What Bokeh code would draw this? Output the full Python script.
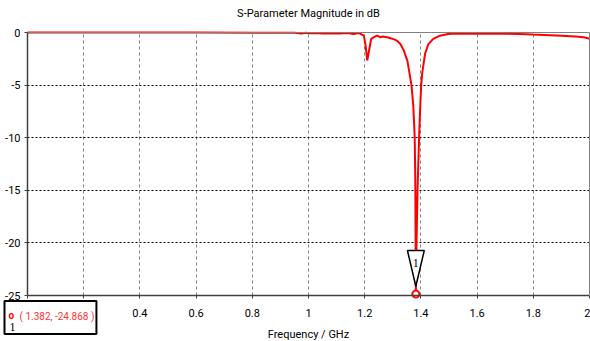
from bokeh.plotting import figure
from bokeh.models import Label, FixedTicker, ColumnDataSource, LinearAxis, Range1d
from bokeh.embed import file_html
from bokeh.resources import INLINE

# ---- data ----
freq_ghz = [0.0, 0.3, 0.6, 0.9, 0.95, 0.975, 0.99, 1.0, 1.02, 1.05, 1.08, 1.11,
            1.14, 1.16, 1.18, 1.19, 1.197, 1.203, 1.209, 1.215, 1.223, 1.233,
            1.244, 1.255, 1.265, 1.28, 1.292, 1.305, 1.316, 1.327, 1.339, 1.352,
            1.3665, 1.373, 1.378, 1.380, 1.381, 1.382, 1.3845, 1.388, 1.3935,
            1.397, 1.401, 1.405, 1.415, 1.4265, 1.444, 1.468, 1.497, 1.53, 1.56,
            1.6, 1.65, 1.7, 1.75, 1.8, 1.86, 1.9, 1.95, 1.98, 2.0]
s11_db = [0.0, 0.0, 0.0, -0.02, -0.03, -0.1, -0.02, -0.08, -0.05, -0.1, -0.06, -0.1,
          -0.05, -0.15, -0.05, -0.2, -0.3, -1.2, -2.66, -1.8, -0.6, -0.45,
          -0.3, -0.45, -0.38, -0.45, -0.55, -0.65, -0.8, -1.1, -1.7, -2.7,
          -5.0, -7.0, -10.0, -14.0, -19.0, -24.868, -20.0, -15.0, -10.0,
          -7.5, -5.0, -3.8, -2.0, -1.1, -0.6, -0.3, -0.15, -0.1, -0.12,
          -0.1, -0.12, -0.1, -0.15, -0.2, -0.25, -0.3, -0.38, -0.45, -0.6]

x_ticks = [0, 0.2, 0.4, 0.6, 0.8, 1.0, 1.2, 1.4, 1.6, 1.8, 2.0]
x_tick_labels = ["0", "0.2", "0.4", "0.6", "0.8", "1", "1.2", "1.4", "1.6", "1.8", "2"]
y_ticks = [0, -5, -10, -15, -20, -25]
y_tick_labels = ["0", "-5", "-10", "-15", "-20", "-25"]

marker_freq = [1.382]
marker_db = [-24.868]
marker_id = "1"

title_text = "S-Parameter Magnitude in dB"
x_label = "Frequency / GHz"

FONT = "Roboto"
SERIF = "Liberation Serif"

# ---- layout: the frame covers the whole canvas; axes sit at fixed locations ----
W, H = 590, 341
left_px, right_px, top_px, bottom_px = 27, 589, 32, 295
x0, x1 = x_ticks[0], x_ticks[-1]
y0, y1 = y_ticks[-1], y_ticks[0]
kx = (right_px - left_px) / (x1 - x0)
ky = (bottom_px - top_px) / (y1 - y0)
xr = Range1d(x0 - left_px / kx, x1 + (W - right_px) / kx)
yr = Range1d(y0 - (H - bottom_px) / ky, y1 + top_px / ky)

p = figure(width=W, height=H, x_range=xr, y_range=yr,
           output_backend="svg", toolbar_location=None, min_border=0)
p.title.visible = False
p.background_fill_color = "white"
p.border_fill_color = "white"
p.outline_line_color = None

# axes
p.xaxis.ticker = FixedTicker(ticks=x_ticks)
p.xaxis.major_label_overrides = {t: l for t, l in zip(x_ticks, x_tick_labels)}
p.yaxis.ticker = FixedTicker(ticks=y_ticks)
p.yaxis.major_label_overrides = {t: l for t, l in zip(y_ticks, y_tick_labels)}
p.xaxis.fixed_location = y0
p.yaxis.fixed_location = x0
p.xaxis.bounds = (x0, x1)
p.yaxis.bounds = (y0, y1)
for ax in (p.xaxis, p.yaxis):
    ax.major_tick_in = 0
    ax.major_tick_out = 3
    ax.minor_tick_line_color = None
    ax.axis_line_color = "#404040"
    ax.axis_line_width = 1.5
    ax.major_tick_line_color = "#404040"
    ax.major_label_text_font = FONT
    ax.major_label_text_font_size = "11px"
    ax.major_label_text_color = "black"
p.xaxis.major_label_standoff = 10
p.yaxis.major_label_standoff = 4
p.xaxis.axis_label = x_label
p.xaxis.axis_label_text_font = FONT
p.xaxis.axis_label_text_font_size = "11px"
p.xaxis.axis_label_text_font_style = "normal"
p.xaxis.axis_label_text_color = "black"
p.xaxis.axis_label_standoff = 8

# frame edges (top and right) as plain axes without ticks
top_axis = LinearAxis(fixed_location=y1, bounds=(x0, x1), axis_line_color="#808080",
                      major_tick_line_color=None, minor_tick_line_color=None,
                      major_label_text_color=None)
right_axis = LinearAxis(fixed_location=x1, bounds=(y0, y1), axis_line_color="#808080",
                        major_tick_line_color=None, minor_tick_line_color=None,
                        major_label_text_color=None)
p.add_layout(top_axis, "above")
p.add_layout(right_axis, "right")

# grids
p.xgrid.ticker = FixedTicker(ticks=x_ticks[1:-1])
p.ygrid.ticker = FixedTicker(ticks=y_ticks[1:-1])
p.xgrid.grid_line_color = "#808080"
p.xgrid.grid_line_dash = "3 3"
p.ygrid.grid_line_color = "black"
p.ygrid.grid_line_dash = "2 2"
p.xgrid.bounds = (x0, x1)
p.ygrid.bounds = (y0, y1)
p.xgrid.cross_bounds = (y0, y1)
p.ygrid.cross_bounds = (x0, x1)

# curve
src = ColumnDataSource(dict(f=freq_ghz, db=s11_db))
p.line("f", "db", source=src, line_color="#ff0000", line_width=2)

# marker triangle (derived from marker point)
mf, md = marker_freq[0], marker_db[0]
tri_x = [mf - 0.03, mf + 0.03, mf]
tri_y = [md + 4.15, md + 4.15, md + 0.75]
p.patch(tri_x, tri_y, fill_color="white", line_color="black", line_width=1.5)
p.add_layout(Label(x=mf, y=md + 3.0, text=marker_id, text_align="center",
                   text_baseline="middle", text_font=SERIF, text_font_size="12px",
                   text_color="black"))
p.scatter(marker_freq, marker_db, marker="circle", size=7, fill_color="white",
          line_color="#ff0000", line_width=2)

# title
p.add_layout(Label(x=(x0 + x1) / 2, y=y1, y_offset=19, text=title_text,
                   text_align="center", text_baseline="middle", text_font=FONT,
                   text_font_size="11px", text_color="black"))

# marker readout box
readout = "( %.3f, %.3f )" % (mf, md)
p.add_layout(Label(x=x0, y=y0, x_offset=-23, y_offset=-22, text=readout,
                   text_align="left", text_baseline="middle",
                   text_font=FONT, text_font_size="10px", text_color="#ff3333",
                   border_line_color="black", border_line_width=2,
                   background_fill_color="white",
                   padding=dict(left=15, right=2, top=10, bottom=12)))
p.add_layout(Label(x=x0, y=y0, x_offset=-19, y_offset=-20, text="o",
                   text_align="left", text_baseline="middle",
                   text_font=FONT, text_font_size="10px", text_font_style="bold",
                   text_color="#ff0000"))
p.add_layout(Label(x=x0, y=y0, x_offset=-18, y_offset=-31, text=marker_id,
                   text_align="left", text_baseline="middle",
                   text_font=SERIF, text_font_size="12px", text_color="black"))

open("out.html", "w").write(file_html(p, INLINE))
